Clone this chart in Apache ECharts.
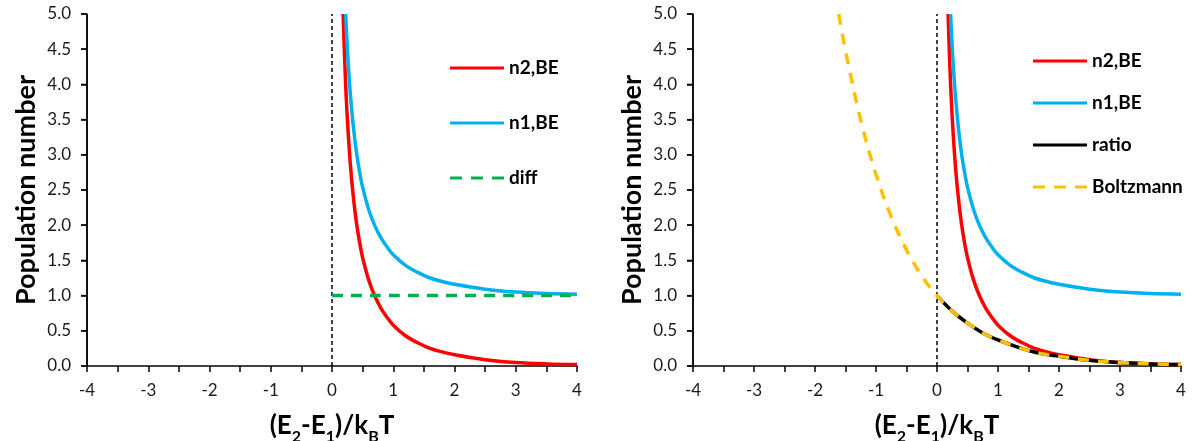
<!DOCTYPE html>
<html>
<head>
<meta charset="utf-8">
<script src="https://cdn.jsdelivr.net/npm/echarts@6/dist/echarts.min.js"></script>
<style>
html,body{margin:0;padding:0;background:#fff;}
#chart{width:1192px;height:441px;}
</style>
</head>
<body>
<div id="chart"></div>
<script>
// ---- data ----
const xTicks = [-4, -3, -2, -1, 0, 1, 2, 3, 4];
const yTicks = [0.0, 0.5, 1.0, 1.5, 2.0, 2.5, 3.0, 3.5, 4.0, 4.5, 5.0];

const n2X = [0.182, 0.19, 0.2, 0.22, 0.25, 0.3, 0.35, 0.4, 0.45, 0.5, 0.6, 0.7, 0.8, 0.9, 1.0, 1.2, 1.4, 1.6, 1.8, 2.0, 2.5, 3.0, 3.5, 4.0];
const n2Y = [5.0, 4.78, 4.52, 4.06, 3.52, 2.86, 2.39, 2.03, 1.76, 1.54, 1.22, 0.99, 0.82, 0.69, 0.58, 0.43, 0.33, 0.25, 0.20, 0.16, 0.09, 0.05, 0.03, 0.02];

const n1X = [0.223, 0.24, 0.26, 0.28, 0.3, 0.35, 0.4, 0.45, 0.5, 0.6, 0.7, 0.8, 0.9, 1.0, 1.2, 1.4, 1.6, 1.8, 2.0, 2.5, 3.0, 3.5, 4.0];
const n1Y = [5.0, 4.69, 4.37, 4.10, 3.86, 3.39, 3.03, 2.76, 2.54, 2.22, 1.99, 1.82, 1.69, 1.58, 1.43, 1.33, 1.25, 1.20, 1.16, 1.09, 1.05, 1.03, 1.02];

const diffX = [0, 4];
const diffY = [1.0, 1.0];

const ratioX = [0, 0.25, 0.5, 0.75, 1.0, 1.25, 1.5, 1.75, 2.0, 2.5, 3.0, 3.5, 4.0];
const ratioY = [1.00, 0.78, 0.61, 0.47, 0.37, 0.29, 0.22, 0.17, 0.14, 0.08, 0.05, 0.03, 0.02];

const boltzX = [-1.61, -1.5, -1.25, -1.0, -0.75, -0.5, -0.25, 0, 0.25, 0.5, 0.75, 1.0, 1.25, 1.5, 1.75, 2.0, 2.5, 3.0, 3.5, 4.0];
const boltzY = [5.0, 4.48, 3.49, 2.72, 2.12, 1.65, 1.28, 1.00, 0.78, 0.61, 0.47, 0.37, 0.29, 0.22, 0.17, 0.14, 0.08, 0.05, 0.03, 0.02];

const zeroLineX = [0, 0];
const zeroLineY = [0, 5];
const yAxisAtX = -4;

const leftLegend = ['n2,BE', 'n1,BE', 'diff'];
const rightLegend = ['n2,BE', 'n1,BE', 'ratio', 'Boltzmann'];
const dashedNames = ['diff', 'Boltzmann'];
const yTitle = 'Population number';

// ---- helpers ----
const pairs = (xs, ys) => xs.map((x, i) => [x, ys[i]]);
const FONT = 'Lato';
const C = { red: '#FF0000', blue: '#00B0F0', green: '#00B050', black: '#000000', yellow: '#FFC000' };
const SOLID_ICON = 'path://M0,0h54v3h-54z';
const DASH_ICON = 'path://M0,0h12v3h-12z M21,0h12v3h-12z M42,0h12v3h-12z';

function xAxisCfg(gi) {
  return {
    type: 'value', gridIndex: gi, min: -4, max: 4, interval: 1,
    axisLine: { show: true, onZero: true, lineStyle: { color: '#000', width: 1.5 } },
    axisTick: { show: true, inside: false, length: 6, lineStyle: { color: '#000', width: 1.5 } },
    minorTick: { show: true, splitNumber: 2, length: 6, lineStyle: { color: '#000', width: 1.5 } },
    splitLine: { show: false },
    axisLabel: { fontFamily: FONT, fontSize: 17, color: '#1a1a1a', margin: 16,
      formatter: v => (xTicks.indexOf(v) >= 0 ? String(v) : '') },
    name: '{m|(E}{s|2}{m|-E}{s|1}{m|)/k}{s|B}{m|T}',
    nameLocation: 'middle', nameGap: 47,
    nameTextStyle: {
      rich: {
        m: { fontFamily: FONT, fontSize: 26, fontWeight: 'bold', color: '#000', lineHeight: 30, verticalAlign: 'top' },
        s: { fontFamily: FONT, fontSize: 16, fontWeight: 'bold', color: '#000', padding: [16, 0, 0, 0], verticalAlign: 'top' }
      }
    }
  };
}
function yAxisCfg(gi) {
  return {
    type: 'value', gridIndex: gi, min: 0, max: 5, interval: 0.5, zlevel: 1, z: 10,
    axisLine: { show: true, onZero: false, lineStyle: { color: '#000', width: 1.5 } },
    axisTick: { show: true, inside: false, length: 6, lineStyle: { color: '#000', width: 1.5 } },
    splitLine: { show: false },
    axisLabel: { fontFamily: FONT, fontSize: 17, color: '#1a1a1a', margin: 16,
      formatter: v => v.toFixed(1) }
  };
}
function line(name, gi, xs, ys, color, dash, z) {
  return {
    name, type: 'line', xAxisIndex: gi, yAxisIndex: gi,
    data: pairs(xs, ys), smooth: 0.35, showSymbol: false, symbol: 'none',
    lineStyle: { color, width: 3.5, type: dash || 'solid', cap: 'butt' },
    itemStyle: { color },
    z: z || 2, clip: true, silent: true
  };
}
function zeroLine(gi) {
  return {
    name: 'zero' + gi, type: 'line', xAxisIndex: gi, yAxisIndex: gi,
    data: pairs(zeroLineX, zeroLineY), showSymbol: false, symbol: 'none',
    lineStyle: { color: '#000', width: 1.5, type: [4, 3] }, z: 1, silent: true
  };
}
// left axis spine drawn through the grid's own scales (fallback)
function ySpine(gi) {
  return {
    name: 'yspine' + gi, type: 'line', xAxisIndex: gi, yAxisIndex: gi,
    data: [[yAxisAtX, yTicks[0]], [yAxisAtX, yTicks[yTicks.length - 1]]],
    showSymbol: false, symbol: 'none', clip: false, silent: true, zlevel: 1, z: 5,
    lineStyle: { color: '#000', width: 1.5, type: 'solid' }
  };
}
function yTickMarks(gi) {
  return {
    name: 'yticks' + gi, type: 'scatter', xAxisIndex: gi, yAxisIndex: gi,
    data: yTicks.map(v => [yAxisAtX, v]), symbol: 'rect', symbolSize: [6, 1.5],
    symbolOffset: [-3, 0], clip: false, silent: true, zlevel: 1, z: 5,
    itemStyle: { color: '#000' }
  };
}
function legendCfg(names, left, top, gap) {
  return {
    data: names.map(n => ({ name: n, icon: dashedNames.indexOf(n) >= 0 ? DASH_ICON : SOLID_ICON })),
    orient: 'vertical', left, top, itemWidth: 54, itemHeight: 3.5, itemGap: gap,
    selectedMode: false,
    itemStyle: { borderWidth: 0 },
    textStyle: { fontFamily: FONT, fontSize: 19, fontWeight: 'bold', color: '#000', lineHeight: 20 }
  };
}
function yTitleGraphic(x) {
  return {
    type: 'text', x, y: 190, rotation: Math.PI / 2, silent: true,
    style: { text: yTitle, fontFamily: FONT, fontSize: 27, fontWeight: 'bold', fill: '#000',
      align: 'center', verticalAlign: 'middle' }
  };
}

const chart = echarts.init(document.getElementById('chart'), null, { renderer: 'canvas' });
chart.setOption({
  animation: false,
  backgroundColor: '#fff',
  grid: [
    { left: 87, top: 14, width: 490, height: 352, outerBoundsMode: 'none', containLabel: false },
    { left: 693, top: 14, width: 488, height: 352, outerBoundsMode: 'none', containLabel: false }
  ],
  xAxis: [xAxisCfg(0), xAxisCfg(1)],
  yAxis: [yAxisCfg(0), yAxisCfg(1)],
  legend: [
    legendCfg(leftLegend, 445, 53, 35),
    legendCfg(rightLegend, 1028, 46, 22)
  ],
  graphic: [yTitleGraphic(26), yTitleGraphic(632)],
  series: [
    zeroLine(0),
    ySpine(0),
    yTickMarks(0),
    line('n2,BE', 0, n2X, n2Y, C.red),
    line('n1,BE', 0, n1X, n1Y, C.blue),
    line('diff', 0, diffX, diffY, C.green, [11, 8], 3),
    zeroLine(1),
    ySpine(1),
    yTickMarks(1),
    line('n2,BE', 1, n2X, n2Y, C.red),
    line('n1,BE', 1, n1X, n1Y, C.blue),
    line('ratio', 1, ratioX, ratioY, C.black),
    line('Boltzmann', 1, boltzX, boltzY, C.yellow, [11, 9], 3)
  ]
});
</script>
</body>
</html>
